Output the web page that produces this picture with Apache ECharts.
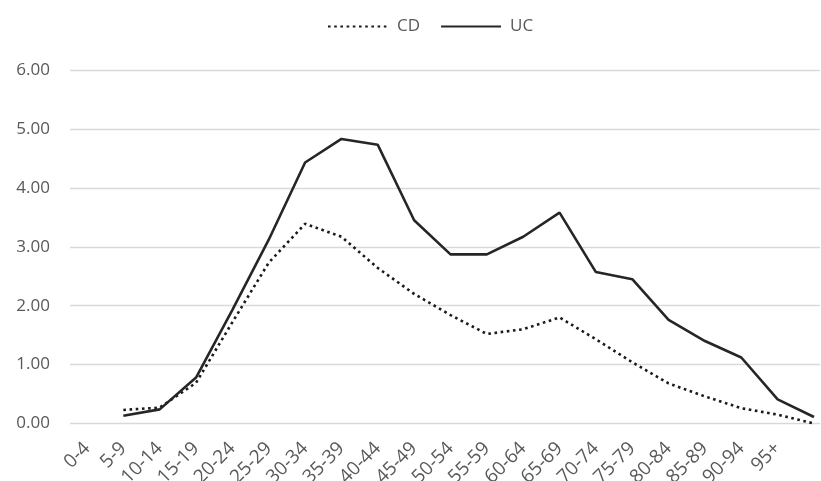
<!DOCTYPE html>
<html>
<head>
<meta charset="utf-8">
<script src="https://cdn.jsdelivr.net/npm/echarts@6/dist/echarts.min.js"></script>
<style>html,body{margin:0;padding:0;background:#fff;}#c{width:821px;height:481px;}</style>
</head>
<body>
<div id="c"></div>
<script>
const categories = ['0-4','5-9','10-14','15-19','20-24','25-29','30-34','35-39','40-44','45-49','50-54','55-59','60-64','65-69','70-74','75-79','80-84','85-89','90-94','95+',''];
const cdValues = [null,0.23,0.27,0.69,1.72,2.73,3.39,3.17,2.64,2.20,1.84,1.52,1.60,1.80,1.43,1.04,0.68,0.46,0.26,0.15,0.00];
const ucValues = [null,0.13,0.24,0.78,1.93,3.12,4.43,4.83,4.73,3.45,2.87,2.87,3.17,3.58,2.57,2.45,1.76,1.40,1.12,0.41,0.11];
const yTicks = [0,1,2,3,4,5,6];

const textColor = '#595959';
const font = '"Open Sans", "Noto Sans", sans-serif';
const chart = echarts.init(document.getElementById('c'));
chart.setOption({
  animation: false,
  backgroundColor: '#fff',
  textStyle: {fontFamily: font},
  legend: {
    top: 13, left: 322,
    itemWidth: 60, itemHeight: 10, itemGap: 20,
    itemStyle: {opacity: 0},
    textStyle: {color: textColor, fontSize: 17, fontFamily: font, padding: [0,0,0,4]},
    data: ['CD','UC']
  },
  grid: [
    {left: 70, right: 1, top: 70, bottom: 57.5, outerBoundsMode: 'none', containLabel: false},
    {left: 87, right: 7, top: 70, bottom: 57.5, outerBoundsMode: 'none', containLabel: false}
  ],
  xAxis: [
    {gridIndex: 0, type: 'category', data: categories, show: false},
    {gridIndex: 1, type: 'category', data: categories, boundaryGap: false,
      axisLine: {show: false}, axisTick: {show: false},
      axisLabel: {interval: 0, rotate: 45, color: textColor, fontSize: 19, fontFamily: font, margin: 22}}
  ],
  yAxis: [
    {gridIndex: 0, type: 'value', min: yTicks[0], max: yTicks[yTicks.length-1], interval: 1,
      axisLine: {show: false}, axisTick: {show: false},
      axisLabel: {color: textColor, fontSize: 17, fontFamily: font, margin: 20, formatter: v => v.toFixed(2)},
      splitLine: {lineStyle: {color: '#d9d9d9', width: 1.3}}},
    {gridIndex: 1, type: 'value', min: yTicks[0], max: yTicks[yTicks.length-1], interval: 1, show: false,
      splitLine: {show: false}}
  ],
  series: [
    {name: 'CD', type: 'line', xAxisIndex: 1, yAxisIndex: 1, data: cdValues, symbol: 'none',
      lineStyle: {color: '#1a1a1a', width: 2.6, type: [2.6, 3.6]}, itemStyle: {color: '#1a1a1a'}},
    {name: 'UC', type: 'line', xAxisIndex: 1, yAxisIndex: 1, data: ucValues, symbol: 'none',
      lineStyle: {color: '#262626', width: 2.6}, itemStyle: {color: '#262626'}}
  ]
});
</script>
</body>
</html>
